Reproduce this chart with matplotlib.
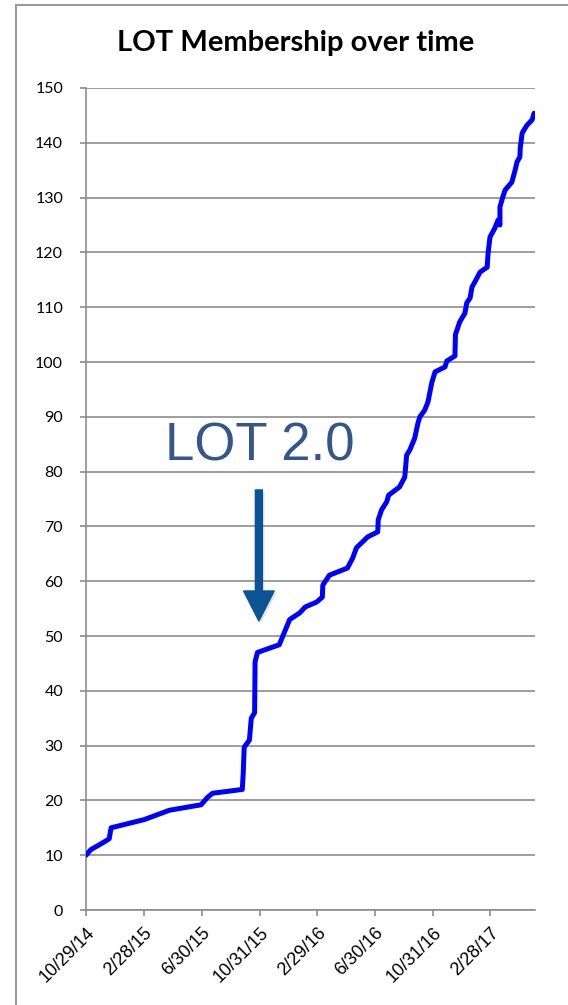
import matplotlib
matplotlib.use("Agg")
import matplotlib.pyplot as plt
import matplotlib.patheffects as pe
from matplotlib.patches import Rectangle
import pandas as pd

dates = ["2014-10-29", "2014-11-08", "2014-12-08", "2014-12-17", "2014-12-21",
         "2015-03-01", "2015-04-23", "2015-06-29", "2015-07-12", "2015-07-23",
         "2015-09-24", "2015-09-26", "2015-09-28", "2015-10-09", "2015-10-13",
         "2015-10-20", "2015-10-21", "2015-10-26", "2015-12-11", "2015-12-22",
         "2016-01-02", "2016-01-23", "2016-02-04", "2016-02-28", "2016-03-11",
         "2016-03-12", "2016-03-26", "2016-05-03", "2016-05-14", "2016-05-22",
         "2016-06-15", "2016-07-06", "2016-07-07", "2016-07-14", "2016-07-25",
         "2016-07-29", "2016-08-21", "2016-09-01", "2016-09-05", "2016-09-12",
         "2016-09-22", "2016-09-29", "2016-10-03", "2016-10-13", "2016-10-20",
         "2016-10-28", "2016-11-04", "2016-11-25", "2016-11-29", "2016-12-16",
         "2016-12-17", "2016-12-26", "2017-01-06", "2017-01-10", "2017-01-17",
         "2017-01-21", "2017-01-27", "2017-02-07", "2017-02-22", "2017-02-24",
         "2017-02-28", "2017-03-10", "2017-03-17", "2017-03-21", "2017-03-21",
         "2017-03-27", "2017-04-01", "2017-04-15", "2017-04-22", "2017-04-26",
         "2017-05-02", "2017-05-03", "2017-05-07", "2017-05-17", "2017-05-28",
         "2017-06-01"]
members = [10, 11, 12.5, 13, 15, 16.5, 18.2, 19.2, 20.5, 21.3,
           22, 25, 29.7, 31, 35, 36, 45.3, 47, 48.4, 50.7,
           53, 54.2, 55.3, 56.2, 57.1, 59.3, 61.1, 62.4, 64.2, 66.1,
           68.1, 69, 71.2, 73, 74.5, 75.7, 77.2, 79, 83, 84,
           86.1, 88.9, 90, 91.2, 92.7, 96.2, 98.2, 99.1, 100.2, 101.1,
           105, 107.3, 108.9, 110.8, 111.7, 113.7, 114.6, 116.4, 117.3, 119.9,
           122.8, 124.4, 125.9, 125, 128.3, 130.1, 131.4, 132.8, 135, 136.5,
           137.4, 139.2, 141.8, 143.2, 144.2, 145.4]

tick_dates = ["2014-10-29", "2015-02-28", "2015-06-30", "2015-10-31",
              "2016-02-29", "2016-06-30", "2016-10-31", "2017-02-28"]
tick_labels = ["10/29/14", "2/28/15", "6/30/15", "10/31/15",
               "2/29/16", "6/30/16", "10/31/16", "2/28/17"]
y_ticks = list(range(0, 151, 10))

grey = "#8c8c8c"

fig = plt.figure(figsize=(5.68, 10.05), dpi=100)
ax = fig.add_axes([86 / 568, 95 / 1005, 449 / 568, 822 / 1005])

ax.plot(pd.to_datetime(dates), members, color="#0000ff", lw=3.6,
        solid_joinstyle="round", solid_capstyle="round", zorder=3)

ax.set_ylim(0, 150)
ax.set_xlim(pd.Timestamp("2014-10-29"), pd.Timestamp("2017-06-03"))
ax.set_yticks(y_ticks)
ax.set_yticklabels([str(v) for v in y_ticks], fontsize=11.5, family="Lato")
ax.set_xticks(pd.to_datetime(tick_dates))
ax.set_xticklabels(tick_labels, rotation=45, ha="right", rotation_mode="anchor",
                   fontsize=13, family="Liberation Sans")

ax.yaxis.grid(True, color=grey, lw=1.2)
ax.set_axisbelow(True)
for s in ["top", "right"]:
    ax.spines[s].set_visible(False)
for s in ["left", "bottom"]:
    ax.spines[s].set_color(grey)
    ax.spines[s].set_linewidth(1.2)
ax.tick_params(axis="both", color=grey, width=1.2, length=4.5, pad=6)
ax.tick_params(axis="y", pad=12)

fig.text(296 / 568, 1 - 43 / 1005, "LOT Membership over time", ha="center",
         va="center", fontsize=21, fontweight="bold", family="Lato")

ax.text(0.176, 0.547, "LOT 2.0", transform=ax.transAxes, ha="left",
        va="baseline", fontsize=38, color="#34568b", family="Liberation Sans")

ax.annotate("", xy=(0.385, 0.3516), xytext=(0.385, 0.511),
            xycoords="axes fraction", textcoords="axes fraction",
            arrowprops=dict(arrowstyle="simple,head_length=1.08,head_width=1.1,tail_width=0.25",
                            mutation_scale=20, color="#0b5394", shrinkA=0, shrinkB=0,
                            path_effects=[pe.SimplePatchShadow(offset=(1.5, -1.5),
                                                               shadow_rgbFace="#888888",
                                                               alpha=0.25),
                                          pe.Normal()]))

fig.patches.append(Rectangle((16 / 568, -0.05), 1.2, 1.05 - 5 / 1005,
                             transform=fig.transFigure, fill=False,
                             edgecolor="#9a9a9a", lw=1.5))

fig.savefig("out.png", dpi=100)
